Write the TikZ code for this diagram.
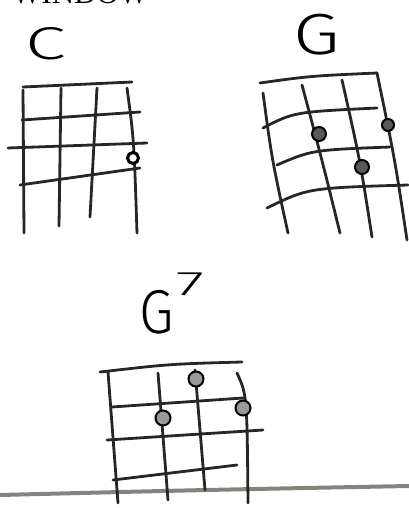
\documentclass[tikz,border=0pt]{standalone}
\usepackage{fontspec}
\setmainfont{Liberation Serif}
\newfontfamily\handfont{Fira Sans Light}
\usepackage{tikz}

\definecolor{edgegray}{RGB}{128,134,124}

\tikzset{
  pen/.style={line width=2.8pt, line cap=round, line join=round, black!85},
  ring/.style={circle, draw=black, line width=3pt, fill=white, inner sep=0pt, minimum size=11pt},
  blob/.style={circle, draw=black, line width=2pt, fill=black!65, inner sep=0pt, minimum size=14pt},
  hatch/.style={circle, draw=black, line width=2pt, fill=black!40, inner sep=0pt, minimum size=15pt},
  chordname/.style={font=\handfont\fontsize{44}{44}\selectfont, inner sep=0pt},
}

\begin{document}
\begin{tikzpicture}[x=1pt, y=-1pt]
    \useasboundingbox (0,0) rectangle (409,508);
    \clip (0,0) rectangle (409,508);

    % Heading, cut off at the top edge
    \node[anchor=base west, font=\fontsize{31}{31}\selectfont, inner sep=0pt] (title) at (12,4) {WINDOW};

    % C chord
    \node[chordname, xscale=1.6, font=\handfont\fontsize{46}{46}\selectfont] (cname) at (46,44) {C};
    \draw[pen] (23,87) -- (132,82);
    \draw[pen] (23,90) -- (24,233);
    \draw[pen] (61,88) -- (59,226);
    \draw[pen] (97,88) -- (90,217);
    \draw[pen] (127,88) .. controls (134,140) .. (137,233);
    \draw[pen] (22,120) -- (140,112);
    \draw[pen] (8,148) -- (147,143);
    \draw[pen] (20,185) -- (140,168);
    \node[ring] (cdot) at (133,158) {};

    % G chord
    \node[chordname, xscale=1.3, font=\handfont\fontsize{58}{58}\selectfont] (gname) at (317,35) {G};
    \draw[pen] (260,83) .. controls (310,76) .. (377,73);
    \draw[pen] (263,93) .. controls (272,160) .. (288,233);
    \draw[pen] (302,85) .. controls (322,160) .. (340,233);
    \draw[pen] (342,80) .. controls (360,160) .. (372,237);
    \draw[pen] (377,73) .. controls (395,160) .. (407,240);
    \draw[pen] (263,128) .. controls (294,112) .. (377,108);
    \draw[pen] (277,165) .. controls (312,150) .. (390,147);
    \draw[pen] (267,208) .. controls (308,188) .. (408,185);
    \node[blob] (gdota) at (319,134) {};
    \node[blob, minimum size=12pt] (gdotb) at (388,125) {};
    \node[blob] (gdotc) at (362,167) {};

    % scanner edge
    \draw[line width=4pt, edgegray] (0,495) .. controls (200,490) .. (409,486);

    % G7 chord
    \node[chordname, xscale=0.9, font=\handfont\fontsize{62}{62}\selectfont] (gsname) at (157,312) {G};
    \node[chordname, xscale=1.9, font=\handfont\fontsize{34}{34}\selectfont] (gsseven) at (190,284) {7};
    \draw[pen] (100,372) .. controls (170,364) .. (242,362);
    \draw[pen] (108,372) -- (118,503);
    \draw[pen] (158,373) -- (168,500);
    \draw[pen] (195,370) -- (205,490);
    \draw[pen] (237,373) .. controls (247,395) .. (248,503);
    \draw[pen] (112,407) -- (243,398);
    \draw[pen] (107,440) -- (263,430);
    \draw[pen] (113,480) -- (237,465);
    \node[hatch] (gsdota) at (196,379) {};
    \node[hatch] (gsdotb) at (163,418) {};
    \node[hatch] (gsdotc) at (243,408) {};
\end{tikzpicture}
\end{document}
